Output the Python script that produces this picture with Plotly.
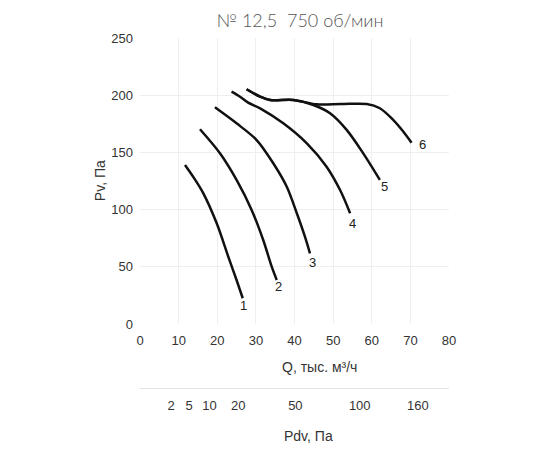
import plotly.graph_objects as go

# ---- data ----
curve_names = ["1", "2", "3", "4", "5", "6"]
q1 = [11.65, 14.0, 16.4, 19.86, 22.86, 25.0, 26.6]
p1 = [139.0, 127.5, 114.2, 88.0, 58.8, 38.5, 22.5]
q2 = [15.53, 20.7, 25.0, 28.9, 31.9, 34.1, 35.4]
p2 = [170.2, 149.2, 125.9, 99.7, 73.4, 50.1, 38.5]
q3 = [19.4, 25.0, 30.2, 34.5, 38.0, 40.6, 42.7, 44.0]
p3 = [189.4, 175.4, 160.8, 140.5, 120.0, 96.8, 76.3, 61.8]
q4 = [23.7, 25.9, 28.0, 31.1, 37.1, 43.2, 48.3, 51.8, 54.4]
p4 = [203.1, 198.7, 193.5, 188.5, 175.4, 157.9, 137.5, 117.1, 96.8]
q5 = [27.6, 31.1, 33.7, 39.7, 44.9, 49.2, 53.5, 57.8, 62.1]
p5 = [205.2, 198.7, 195.8, 195.8, 191.4, 184.2, 169.7, 149.2, 126.0]
q6 = [27.6, 31.1, 33.7, 39.7, 45.7, 52.0, 58.7, 62.1, 65.6, 68.2, 70.3]
p6 = [205.2, 198.7, 195.8, 195.8, 192.0, 192.2, 192.3, 188.6, 178.3, 168.1, 158.5]

x_ticks = [0, 10, 20, 30, 40, 50, 60, 70, 80]
y_ticks = [0, 50, 100, 150, 200, 250]
pdv_ticks = [2, 5, 10, 20, 50, 100, 160]
pdv_coef = 0.0309  # Pdv = coef * Q^2

title_text = "№ 12,5  750 об/мин"
x_title = "Q, тыс. м³/ч"
y_title = "Pv, Па"
pdv_title = "Pdv, Па"

label_shift = [(1, -7), (2, -7), (3, -9), (2, -10), (5, -7), (11, -2)]

# ---- figure ----
qs = [q1, q2, q3, q4, q5, q6]
ps = [p1, p2, p3, p4, p5, p6]

fig = go.Figure()
for name, q, p in zip(curve_names, qs, ps):
    fig.add_trace(go.Scatter(x=q, y=p, mode="lines", name=name,
                             line=dict(color="#111111", width=2.5, shape="spline", smoothing=0.9),
                             hoverinfo="skip", showlegend=False))

pdv_pos = [(v / pdv_coef) ** 0.5 for v in pdv_ticks]
fig.add_trace(go.Scatter(x=pdv_pos, y=[0] * len(pdv_pos), xaxis="x2", yaxis="y",
                         mode="markers", marker=dict(opacity=0), hoverinfo="skip",
                         showlegend=False))

tick_font = dict(family="Liberation Sans", size=13, color="#333")
title_font = dict(family="Liberation Sans", size=14, color="#333")

annotations = []
for name, q, p, (dx, dy) in zip(curve_names, qs, ps, label_shift):
    annotations.append(dict(x=q[-1], y=p[-1], xref="x", yref="y", text=name,
                            showarrow=False, xshift=dx, yshift=dy,
                            xanchor="center", yanchor="middle",
                            font=dict(family="Liberation Sans", size=13, color="#222")))

annotations += [
    dict(text=x_title, x=0.5825, y=0.1775, xref="paper", yref="paper", showarrow=False,
         xanchor="center", yanchor="middle", font=title_font),
    dict(text=pdv_title, x=0.544, y=0.005, xref="paper", yref="paper", showarrow=False,
         xanchor="center", yanchor="middle", font=title_font),
    dict(text=y_title, x=-0.129, y=0.6425, xref="paper", yref="paper", showarrow=False,
         xanchor="center", yanchor="middle", textangle=-90, font=title_font),
]

fig.update_layout(
    width=534, height=442,
    margin=dict(l=132, r=93, t=30, b=12, autoexpand=False),
    paper_bgcolor="white", plot_bgcolor="white",
    title=dict(text=title_text, x=0.547, xref="container", y=1 - 13 / 442, yref="container",
               xanchor="center", yanchor="middle",
               font=dict(family="Lato", size=18, color="#555", weight=300)),
    xaxis=dict(range=[0, 80], tickvals=x_ticks, showgrid=True, gridcolor="#efefef",
               zeroline=False, showline=False, ticks="", ticklabelstandoff=7,
               automargin=False, tickfont=tick_font),
    xaxis2=dict(range=[0, 80], overlaying="x", anchor="free", position=0.125, side="bottom",
                tickvals=pdv_pos, ticktext=[str(v) for v in pdv_ticks],
                showgrid=False, zeroline=False, showline=True, linecolor="#e4e4e4",
                ticks="", ticklabelstandoff=5, automargin=False, tickfont=tick_font),
    yaxis=dict(range=[0, 250], tickvals=y_ticks, domain=[0.285, 1], showgrid=True,
               gridcolor="#efefef", zeroline=False, showline=False, ticks="",
               ticklabelstandoff=6, automargin=False, tickfont=tick_font),
    annotations=annotations,
)

fig.write_html("out.html")
